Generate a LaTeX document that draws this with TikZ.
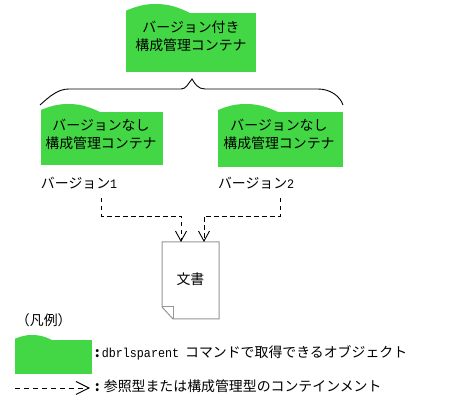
\documentclass[tikz,border=0pt]{standalone}
\usepackage{fontspec}
\setmainfont{Noto Sans CJK JP}
\setmonofont[FakeStretch=0.9]{Liberation Mono}
\usetikzlibrary{arrows.meta}
\definecolor{contgreen}{RGB}{67,214,69}
\definecolor{docgray}{RGB}{150,150,150}
\newcommand{\jfont}{\fontsize{13.9}{18}\selectfont}
\newcommand{\lat}[1]{{\ttfamily\fontsize{13}{18}\selectfont #1}}
% green tab: hump of width #2 and height #3 on the top edge of a named box
\newcommand{\humpon}[3]{%
  \begin{scope}[shift={(#1.north west)}]
  \fill[contgreen] (0,0.5) -- (0,-#3*0.25)
    .. controls (#2*0.16,-#3*0.75) and (#2*0.30,-#3) .. (#2*0.45,-#3)
    .. controls (#2*0.62,-#3) and (#2*0.76,-#3*0.85) .. (#2,0) -- (#2,0.5) -- cycle;
  \end{scope}}
\tikzset{
  x=1pt,y=-1pt,
  every node/.style={font=\jfont,inner sep=0pt,outer sep=0pt},
  contbox/.style={fill=contgreen,align=center,text=black},
  plainlabel/.style={anchor=west,text=black},
  conn/.style={line width=0.9pt,dash pattern=on 4.5pt off 3.5pt,
    -{Straight Barb[length=10pt,width=11pt,line width=0.9pt]}},
  bracket/.style={line width=0.9pt,black},
  docshape/.style={draw=docgray,line width=1pt,fill=white},
}
\begin{document}
\begin{tikzpicture}
\useasboundingbox (0,0) rectangle (451,403);
\fill[white] (0,0) rectangle (451,403);
% containers
\node[contbox,minimum width=130pt,minimum height=59pt] (top) at (191,42.5) {};
\humpon{top}{64}{9}
\node[contbox] (toptext) at (191,36) {バージョン付き\\構成管理コンテナ};
\node[contbox,minimum width=122pt,minimum height=53pt] (left) at (102,138.5) {};
\humpon{left}{59}{8}
\node[contbox] (lefttext) at (101,134) {バージョンなし\\構成管理コンテナ};
\node[contbox,minimum width=125pt,minimum height=55pt] (right) at (280.5,139.5) {};
\humpon{right}{60}{8}
\node[contbox] (righttext) at (279,134) {バージョンなし\\構成管理コンテナ};
% brace
\coordinate (bl) at (40,105);
\coordinate (bt) at (192,79);
\coordinate (br) at (343,105);
\draw[bracket] (bl) .. controls (50,96) and (58,89) .. (69,89) -- (181,89)
  .. controls (186,89) and (188,84) .. (bt)
  .. controls (195,84) and (198,89) .. (205,89) -- (318,89)
  .. controls (330,89) and (340,96) .. (br);
% version labels
\node[plainlabel] (v1) at (41,183) {バージョン\lat{1}};
\node[plainlabel] (v2) at (218,183) {バージョン\lat{2}};
% document
\node[minimum width=57pt,minimum height=77pt] (doc) at (190.5,280.5) {};
\draw[docshape] (doc.north west) -- (doc.north east) -- (doc.south east)
  -- ([xshift=11pt]doc.south west) -- ([yshift=12pt]doc.south west) -- cycle;
\draw[docgray,line width=1pt] ([yshift=12pt]doc.south west) -- ([xshift=11pt,yshift=12pt]doc.south west) -- ([xshift=11pt]doc.south west);
\node (doctext) at (190.5,279.5) {文書};
% connectors
\coordinate (c1) at (101,198);
\coordinate (c2) at (280.5,198);
\coordinate (in1) at (181,242);
\coordinate (in2) at (204,242);
\draw[conn] (c1) |- (181,216) -- (in1);
\draw[conn] (c2) |- (204,216) -- (in2);
% legend
\node[plainlabel] (leg) at (16,320) {（凡例）};
\node[contbox,minimum width=77pt,minimum height=34pt] (legbox) at (53.5,357) {};
\humpon{legbox}{37}{5}
\node[plainlabel] (legt1) at (95,353) {\textbf{:}\hspace{2pt}\lat{dbrlsparent}\hspace{6pt}コマンドで取得できるオブジェクト};
\coordinate (la) at (15,388);
\coordinate (lb) at (90,388);
\draw[line width=0.9pt,dash pattern=on 5pt off 4pt,-{Straight Barb[length=13pt,width=13pt,line width=0.9pt]}] (la) -- (lb);
\node[plainlabel] (legt2) at (95,386) {\textbf{:}\hspace{4pt}参照型または構成管理型のコンテインメント};
\end{tikzpicture}
\end{document}
